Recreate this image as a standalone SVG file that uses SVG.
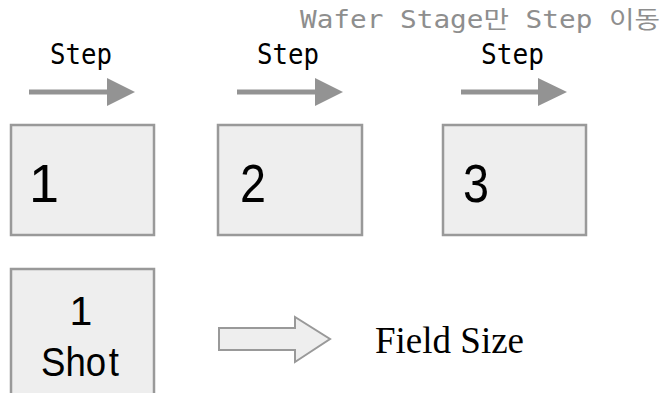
<svg xmlns="http://www.w3.org/2000/svg" width="668" height="393" viewBox="0 0 668 393">
  <style>
    .cell { fill: #eeeeee; stroke: #999999; stroke-width: 2.5; }
    .num { font-family: "Liberation Sans", Arial, sans-serif; font-size: 54px; fill: #000; }
    .step { font-family: "DejaVu Sans Mono", "Liberation Mono", monospace; font-size: 29px; fill: #000; }
    .note { font-family: "DejaVu Sans Mono", "Noto Sans CJK KR", monospace; font-size: 24px; fill: #8e8e8e; }
    .shaft { stroke: #939393; stroke-width: 5; fill: none; }
    .head { fill: #939393; }
    .hollow { fill: #eeeeee; stroke: #999999; stroke-width: 2; }
    .shot { font-family: "Liberation Sans", Arial, sans-serif; font-size: 41px; fill: #000; text-anchor: middle; }
    .label { font-family: "Liberation Serif", "Times New Roman", serif; font-size: 37px; fill: #000; }
  </style>

  <!-- heading note -->
  <text class="note" x="300" y="28" textLength="360" lengthAdjust="spacingAndGlyphs">Wafer Stage만 Step 이동</text>

  <!-- step labels -->
  <g id="step-labels">
    <text class="step" x="50" y="64" textLength="62" lengthAdjust="spacingAndGlyphs">Step</text>
    <text class="step" x="257" y="64" textLength="62" lengthAdjust="spacingAndGlyphs">Step</text>
    <text class="step" x="481" y="64" textLength="63" lengthAdjust="spacingAndGlyphs">Step</text>
  </g>

  <!-- step arrows and the field-size arrow -->
  <g id="connectors">
    <line class="shaft" x1="29" y1="92" x2="108" y2="92"/>
    <polygon class="head" points="107,78 135,92 107,106"/>
    <line class="shaft" x1="237" y1="92" x2="316" y2="92"/>
    <polygon class="head" points="315,78 343,92 315,106"/>
    <line class="shaft" x1="461" y1="92" x2="539" y2="92"/>
    <polygon class="head" points="538,78 567,92 538,106"/>
    <polygon id="field-arrow" class="hollow" points="219,328 295,328 295,317 330,339 295,362 295,350 219,350"/>
  </g>

  <!-- shot cells -->
  <g id="cell-1">
    <rect class="cell" x="11" y="125" width="143" height="110"/>
    <text class="num" x="29" y="202">1</text>
  </g>
  <g id="cell-2">
    <rect class="cell" x="218" y="125" width="144" height="110"/>
    <text class="num" x="240" y="202" textLength="26" lengthAdjust="spacingAndGlyphs">2</text>
  </g>
  <g id="cell-3">
    <rect class="cell" x="443" y="125" width="143" height="110"/>
    <text class="num" x="463" y="202" textLength="26" lengthAdjust="spacingAndGlyphs">3</text>
  </g>

  <!-- single shot cell -->
  <g id="one-shot">
    <rect class="cell" x="11" y="269" width="143" height="140"/>
    <text class="shot" x="81" y="325">1</text>
    <text class="shot" x="80" y="376" dx="0 0 0 3" textLength="78" lengthAdjust="spacingAndGlyphs">Shot</text>
  </g>

  <g id="field-size">
    <text class="label" x="375" y="353">Field Size</text>
  </g>
</svg>
